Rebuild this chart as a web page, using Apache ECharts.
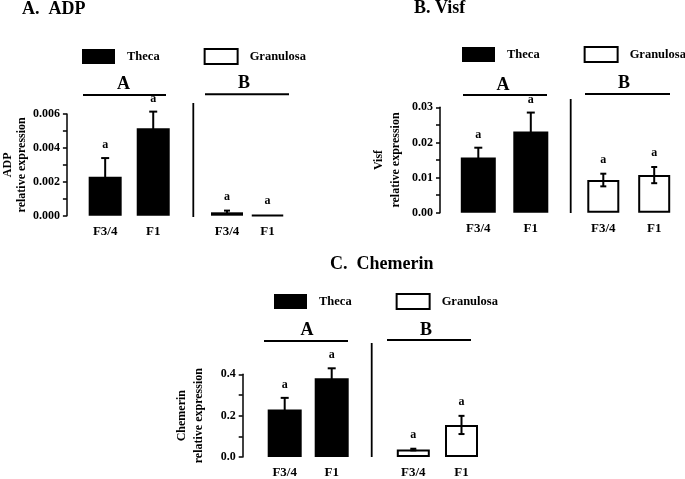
<!DOCTYPE html>
<html>
<head>
<meta charset="utf-8">
<script src="https://cdn.jsdelivr.net/npm/echarts@6/dist/echarts.min.js"></script>
<style>
html,body{margin:0;padding:0;background:#fff;}
#chart{width:685px;height:479px;}
</style>
</head>
<body>
<div id="chart"></div>
<script>
// ---- data ----
const categories = ['F3/4', 'F1'];
const seriesNames = ['Theca', 'Granulosa'];
const sigLabels = ['a', 'a'];

const adpTheca = [0.0023, 0.00516];
const adpThecaErr = [0.0011, 0.00098];
const adpGran = [0.0002, 0.00003];
const adpGranErr = [0.0001, 0];

const visfTheca = [0.0157, 0.0231];
const visfThecaErr = [0.0028, 0.0054];
const visfGran = [0.0093, 0.0107];
const visfGranErr = [0.0018, 0.0023];

const chemTheca = [0.230, 0.381];
const chemThecaErr = [0.056, 0.048];
const chemGran = [0.036, 0.155];
const chemGranErr = [0.004, 0.044];

const adpTicks = [0, 0.006, 0.002];
const visfTicks = [0, 0.03, 0.01];
const chemTicks = [0, 0.4, 0.2];

// ---- styles ----
const FONT = 'Liberation Serif';
const txt = (size) => ({ fontFamily: FONT, fontWeight: 'bold', fontSize: size, color: '#000' });

const panels = [
  { title: 'A.  ADP', titleX: 22, titleY: 9, yName: 'ADP\nrelative expression', nameLH: 14, nameGap: 36,
    ticks: adpTicks, dec: 3, theca: adpTheca, thecaErr: adpThecaErr, gran: adpGran, granErr: adpGranErr,
    gT: { left: 80.25, width: 97, top: 114, height: 101.7 }, axisOffset: 14.25,
    gG: { left: 206.75, width: 81 }, bwT: 33, bwG: 32,
    legend: { left: 82, top: 48 },
    grpA: { x: 123.5, y: 84, x1: 83, x2: 166, ly: 95 }, grpB: { x: 244, y: 83, x1: 205, x2: 289, ly: 94.3 },
    div: { x: 193.3, y1: 103, y2: 217 } },
  { title: 'B. Visf', titleX: 414, titleY: 8.5, yName: 'Visf\nrelative expression', nameLH: 17, nameGap: 36,
    ticks: visfTicks, dec: 2, theca: visfTheca, thecaErr: visfThecaErr, gran: visfGran, granErr: visfGranErr,
    gT: { left: 452.05, width: 105, top: 107.3, height: 105.4 }, axisOffset: 12.05,
    gG: { left: 577.85, width: 101.8 }, bwT: 35, bwG: 32,
    legend: { left: 462, top: 46 },
    grpA: { x: 503, y: 85, x1: 463, x2: 547, ly: 95 }, grpB: { x: 624, y: 83, x1: 585, x2: 670, ly: 94 },
    div: { x: 570.7, y1: 99, y2: 213 } },
  { title: 'C.  Chemerin', titleX: 330, titleY: 264, yName: 'Chemerin\nrelative expression', nameLH: 17, nameGap: 35,
    ticks: chemTicks, dec: 1, theca: chemTheca, thecaErr: chemThecaErr, gran: chemGran, granErr: chemGranErr,
    gT: { left: 261.2, width: 94, top: 374.3, height: 84 }, axisOffset: 18.5,
    gG: { left: 389.2, width: 96.4 }, bwT: 34, bwG: 33,
    legend: { left: 274, top: 293 },
    grpA: { x: 307, y: 330.5, x1: 264, x2: 348, ly: 341 }, grpB: { x: 426, y: 330.5, x1: 387, x2: 471, ly: 340 },
    div: { x: 371.7, y1: 343, y2: 457 } }
];

const grids = [], xAxes = [], yAxes = [], series = [], legends = [], graphics = [];

function errSeries(idx, vals, errs, capW, labelGap) {
  return {
    type: 'custom', name: 'err' + idx, xAxisIndex: idx, yAxisIndex: idx, z: 10, silent: true,
    data: vals.map((v, i) => [i, v, errs[i]]),
    renderItem: function (params, api) {
      const i = api.value(0), v = api.value(1), e = api.value(2);
      const top = api.coord([i, v + e]);
      const bot = api.coord([i, Math.max(v - e, 0)]);
      const x = top[0], h = capW / 2;
      const ls = { stroke: '#000', lineWidth: 2 };
      const children = [];
      if (e > 0) {
        children.push({ type: 'line', shape: { x1: x, y1: top[1], x2: x, y2: bot[1] }, style: ls });
        children.push({ type: 'line', shape: { x1: x - h, y1: top[1], x2: x + h, y2: top[1] }, style: ls });
        children.push({ type: 'line', shape: { x1: x - h, y1: bot[1], x2: x + h, y2: bot[1] }, style: ls });
      }
      children.push({ type: 'text', x: x, y: top[1] - labelGap,
        style: { text: sigLabels[params.dataIndex], fontFamily: FONT, fontWeight: 'bold', fontSize: 12,
                 fill: '#000', align: 'center', verticalAlign: 'middle' } });
      return { type: 'group', children: children };
    }
  };
}

panels.forEach((p, k) => {
  const iT = k * 2, iG = k * 2 + 1;
  grids.push({ left: p.gT.left, top: p.gT.top, width: p.gT.width, height: p.gT.height, containLabel: false });
  grids.push({ left: p.gG.left, top: p.gT.top, width: p.gG.width, height: p.gT.height, containLabel: false });
  [iT, iG].forEach(gi => {
    xAxes.push({ type: 'category', gridIndex: gi, data: categories, boundaryGap: true,
      axisLine: { show: false }, axisTick: { show: false },
      axisLabel: Object.assign(txt(13), { margin: 9, interval: 0 }) });
  });
  yAxes.push({ type: 'value', gridIndex: iT, min: p.ticks[0], max: p.ticks[1], interval: p.ticks[2],
    offset: p.axisOffset, position: 'left',
    name: p.yName, nameLocation: 'middle', nameRotate: 90, nameGap: p.nameGap,
    nameTextStyle: Object.assign(txt(12), { lineHeight: p.nameLH }),
    axisLine: { show: true, lineStyle: { color: '#000', width: 1.5 } },
    axisTick: { show: true, length: 4, lineStyle: { color: '#000', width: 1.5 } },
    minorTick: { show: true, splitNumber: 2, length: 4, lineStyle: { color: '#000', width: 1.5 } },
    splitLine: { show: false }, minorSplitLine: { show: false },
    axisLabel: Object.assign(txt(12), { margin: 7, formatter: v => v.toFixed(p.dec) }) });
  yAxes.push({ type: 'value', gridIndex: iG, min: p.ticks[0], max: p.ticks[1], interval: p.ticks[2], show: false,
    splitLine: { show: false } });

  series.push({ type: 'bar', name: seriesNames[0], xAxisIndex: iT, yAxisIndex: iT, data: p.theca,
    barWidth: p.bwT, itemStyle: { color: '#000' }, silent: true, z: 2 });
  series.push({ type: 'bar', name: seriesNames[1], xAxisIndex: iG, yAxisIndex: iG, data: p.gran,
    barWidth: p.bwG, itemStyle: { color: '#fff', borderColor: '#000', borderWidth: 2 }, silent: true, z: 2 });
  series.push(errSeries(iT, p.theca, p.thecaErr, 8, 13));
  series.push(errSeries(iG, p.gran, p.granErr, 6, 14));

  legends.push({ left: p.legend.left, top: p.legend.top, width: 400, padding: 0, itemWidth: 33, itemHeight: 15, itemGap: 44,
    selectedMode: false, icon: 'rect', orient: 'horizontal',
    textStyle: Object.assign(txt(12.5), { padding: [0, 0, 0, 7] }),
    data: [
      { name: seriesNames[0], itemStyle: { color: '#000', borderWidth: 0 } },
      { name: seriesNames[1], itemStyle: { color: '#fff', borderColor: '#000', borderWidth: 2 } }
    ] });

  graphics.push({ type: 'text', x: p.titleX, y: p.titleY,
    style: { text: p.title, fontFamily: FONT, fontWeight: 'bold', fontSize: 18, fill: '#000', verticalAlign: 'middle' } });
  [p.grpA, p.grpB].forEach((g, j) => {
    graphics.push({ type: 'text', x: g.x, y: g.y,
      style: { text: j === 0 ? 'A' : 'B', fontFamily: FONT, fontWeight: 'bold', fontSize: 18, fill: '#000',
               align: 'center', verticalAlign: 'middle' } });
    graphics.push({ type: 'line', shape: { x1: g.x1, y1: g.ly, x2: g.x2, y2: g.ly }, style: { stroke: '#000', lineWidth: 2 } });
  });
  graphics.push({ type: 'line', shape: { x1: p.div.x, y1: p.div.y1, x2: p.div.x, y2: p.div.y2 },
    style: { stroke: '#000', lineWidth: 1.8 } });
});

const chart = echarts.init(document.getElementById('chart'), null, { renderer: 'canvas' });
chart.setOption({
  animation: false,
  backgroundColor: '#fff',
  textStyle: { fontFamily: FONT },
  grid: grids, xAxis: xAxes, yAxis: yAxes, series: series, legend: legends,
  graphic: graphics
});
</script>
</body>
</html>
